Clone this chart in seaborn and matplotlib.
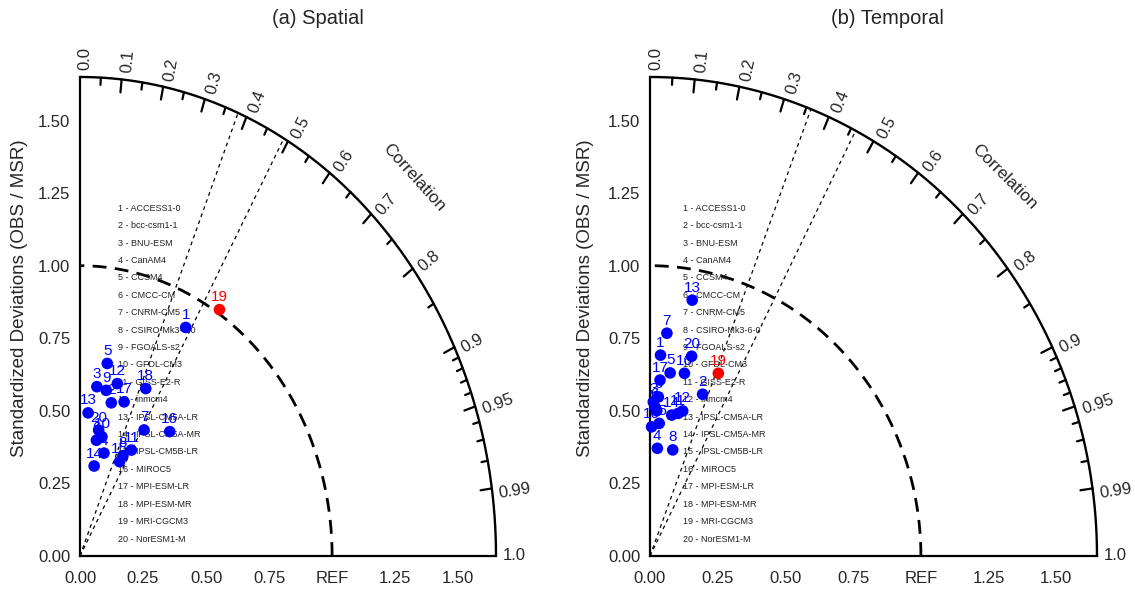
import numpy as np
import pandas as pd
import matplotlib
matplotlib.use("Agg")
import matplotlib.pyplot as plt
import seaborn as sns

# model names (numbered in the diagram)
models = ["ACCESS1-0", "bcc-csm1-1", "BNU-ESM", "CanAM4", "CCSM4", "CMCC-CM",
          "CNRM-CM5", "CSIRO-Mk3-6-0", "FGOALS-s2", "GFDL-CM3", "GISS-E2-R",
          "inmcm4", "IPSL-CM5A-LR", "IPSL-CM5A-MR", "IPSL-CM5B-LR", "MIROC5",
          "MPI-ESM-LR", "MPI-ESM-MR", "MRI-CGCM3", "NorESM1-M"]

# (a) spatial: normalized std and correlation per model
spatial_std = [0.892, 0.542, 0.587, 0.367, 0.672, 0.404, 0.503, 0.385, 0.580, 0.420,
               0.418, 0.612, 0.494, 0.315, 0.361, 0.557, 0.559, 0.633, 1.013, 0.440]
spatial_corr = [0.470, 0.229, 0.114, 0.259, 0.161, 0.161, 0.505, 0.442, 0.179, 0.207,
                0.488, 0.242, 0.065, 0.178, 0.435, 0.639, 0.313, 0.412, 0.546, 0.168]

# (b) temporal
temporal_std = [0.693, 0.590, 0.531, 0.372, 0.635, 0.514, 0.770, 0.375, 0.549, 0.445,
                0.502, 0.514, 0.895, 0.492, 0.458, 0.642, 0.607, 0.501, 0.678, 0.705]
temporal_corr = [0.056, 0.329, 0.023, 0.073, 0.117, 0.035, 0.081, 0.224, 0.056, 0.013,
                 0.207, 0.235, 0.174, 0.163, 0.074, 0.198, 0.061, 0.050, 0.372, 0.218]

highlight = 19  # drawn in red

# dotted correlation reference lines per panel
spatial_sig = [0.38, 0.49]
temporal_sig = [0.36, 0.46]

arc_major = [0.1, 0.2, 0.3, 0.4, 0.5, 0.6, 0.7, 0.8, 0.9, 0.95, 0.99]
arc_minor = [0.05, 0.15, 0.25, 0.35, 0.45, 0.55, 0.65, 0.75, 0.85,
             0.91, 0.92, 0.93, 0.94, 0.96, 0.97, 0.98]
arc_labels = ["0.0"] + [str(c) for c in arc_major] + ["1.0"]
std_ticks = [0.0, 0.25, 0.5, 0.75, 1.0, 1.25, 1.5]
x_ticklabels = ["0.00", "0.25", "0.50", "0.75", "REF", "1.25", "1.50"]
y_ticklabels = ["0.00", "0.25", "0.50", "0.75", "1.00", "1.25", "1.50"]

RMAX = 1.65

sns.set_style("white")
plt.rcParams['font.family'] = ['Liberation Sans', 'DejaVu Sans']


def taylor(ax, std, corr, sig, corr_txt_xy, corr_txt_rot, legend_x):
    std = np.array(std)
    corr = np.array(corr)
    df = pd.DataFrame({'x': std * corr, 'y': std * np.sqrt(1 - corr ** 2),
                       'num': np.arange(1, len(std) + 1)})
    df['grp'] = np.where(df['num'] == highlight, 'ref', 'model')

    ax.set_xlim(0, RMAX)
    ax.set_ylim(0, RMAX)
    for s in ['top', 'right']:
        ax.spines[s].set_visible(False)
    for s in ['left', 'bottom']:
        ax.spines[s].set_linewidth(1.6)
        ax.spines[s].set_color('black')

    ax.set_xticks(std_ticks)
    ax.set_xticklabels(x_ticklabels)
    ax.set_yticks(std_ticks)
    ax.set_yticklabels(y_ticklabels)
    ax.tick_params(direction='in', length=8, width=1.6, labelsize=12, pad=7)
    ax.tick_params(axis='x', pad=11)

    # outer arc
    th = np.linspace(0, np.pi / 2, 300)
    ax.plot(RMAX * np.cos(th), RMAX * np.sin(th), color='black', lw=1.7, clip_on=False)
    # REF arc
    ax.plot(np.cos(th), np.sin(th), color='black', lw=2, ls=(0, (5, 3)), clip_on=False)

    # arc ticks
    for c in arc_major + arc_minor:
        ln = 0.045 if c in arc_major else 0.025
        a = np.arccos(c)
        ax.plot([RMAX * np.cos(a), (RMAX - ln) * np.cos(a)],
                [RMAX * np.sin(a), (RMAX - ln) * np.sin(a)], color='black', lw=1.6,
                clip_on=False)
    for c, lab in zip([0.0] + arc_major + [1.0], arc_labels):
        a = np.arccos(c)
        al = a - 0.012 if c < 1.0 else a
        ax.text((RMAX + 0.025) * np.cos(al), (RMAX + 0.025) * np.sin(al), lab,
                rotation=np.degrees(a), transform_rotates_text=True,
                rotation_mode='anchor', ha='left', va='center', fontsize=12,
                clip_on=False)
    ax.text(corr_txt_xy[0], corr_txt_xy[1], "Correlation", rotation=corr_txt_rot,
            ha='center', va='center', fontsize=12.5, rotation_mode='anchor')

    # dotted correlation lines
    for c in sig:
        a = np.arccos(c)
        ax.plot([0, RMAX * np.cos(a)], [0, RMAX * np.sin(a)], color='black',
                lw=0.9, ls=(0, (3, 3)), clip_on=False)

    # model list
    ys = np.linspace(1.198, 0.0585, len(models))
    for i, (m, yy) in enumerate(zip(models, ys)):
        ax.text(legend_x, yy, f"{i + 1} - {m}", fontsize=6.5, color='#222222',
                ha='left', va='center')

    sns.scatterplot(data=df, x='x', y='y', hue='grp',
                    palette={'model': '#0000ff', 'ref': '#ff0000'}, s=70,
                    edgecolor='none', linewidth=0, legend=False, ax=ax,
                    clip_on=False, zorder=5)
    for _, r in df.iterrows():
        col = '#ff0000' if r['num'] == highlight else '#0000ff'
        ax.annotate(str(int(r['num'])), (r['x'], r['y']), xytext=(0, 9),
                    textcoords='offset points', ha='center', va='center',
                    fontsize=11, color=col, zorder=6)
    ax.set_xlabel("")
    ax.set_ylabel("")


fig = plt.figure(figsize=(11.35, 5.92), dpi=100)
ax1 = fig.add_axes([80 / 1135, 36 / 592, 416 / 1135, 479 / 592])
ax2 = fig.add_axes([650 / 1135, 36 / 592, 447 / 1135, 479 / 592])

taylor(ax1, spatial_std, spatial_corr, spatial_sig, (1.325, 1.305), -48, 0.151)
taylor(ax2, temporal_std, temporal_corr, temporal_sig, (1.31, 1.305), -45, 0.122)

fig.text(318 / 1135, 1 - 18 / 592, "(a) Spatial", ha='center', va='center', fontsize=14.5)
fig.text(887 / 1135, 1 - 18 / 592, "(b) Temporal", ha='center', va='center', fontsize=14.5)
fig.text(20 / 1135, 1 - 298 / 592, "Standardized Deviations (OBS / MSR)", rotation=90,
         ha='center', va='center', fontsize=13.5)
fig.text(586 / 1135, 1 - 298 / 592, "Standardized Deviations (OBS / MSR)", rotation=90,
         ha='center', va='center', fontsize=13.5)

fig.savefig("out.png", dpi=100, facecolor='white')
